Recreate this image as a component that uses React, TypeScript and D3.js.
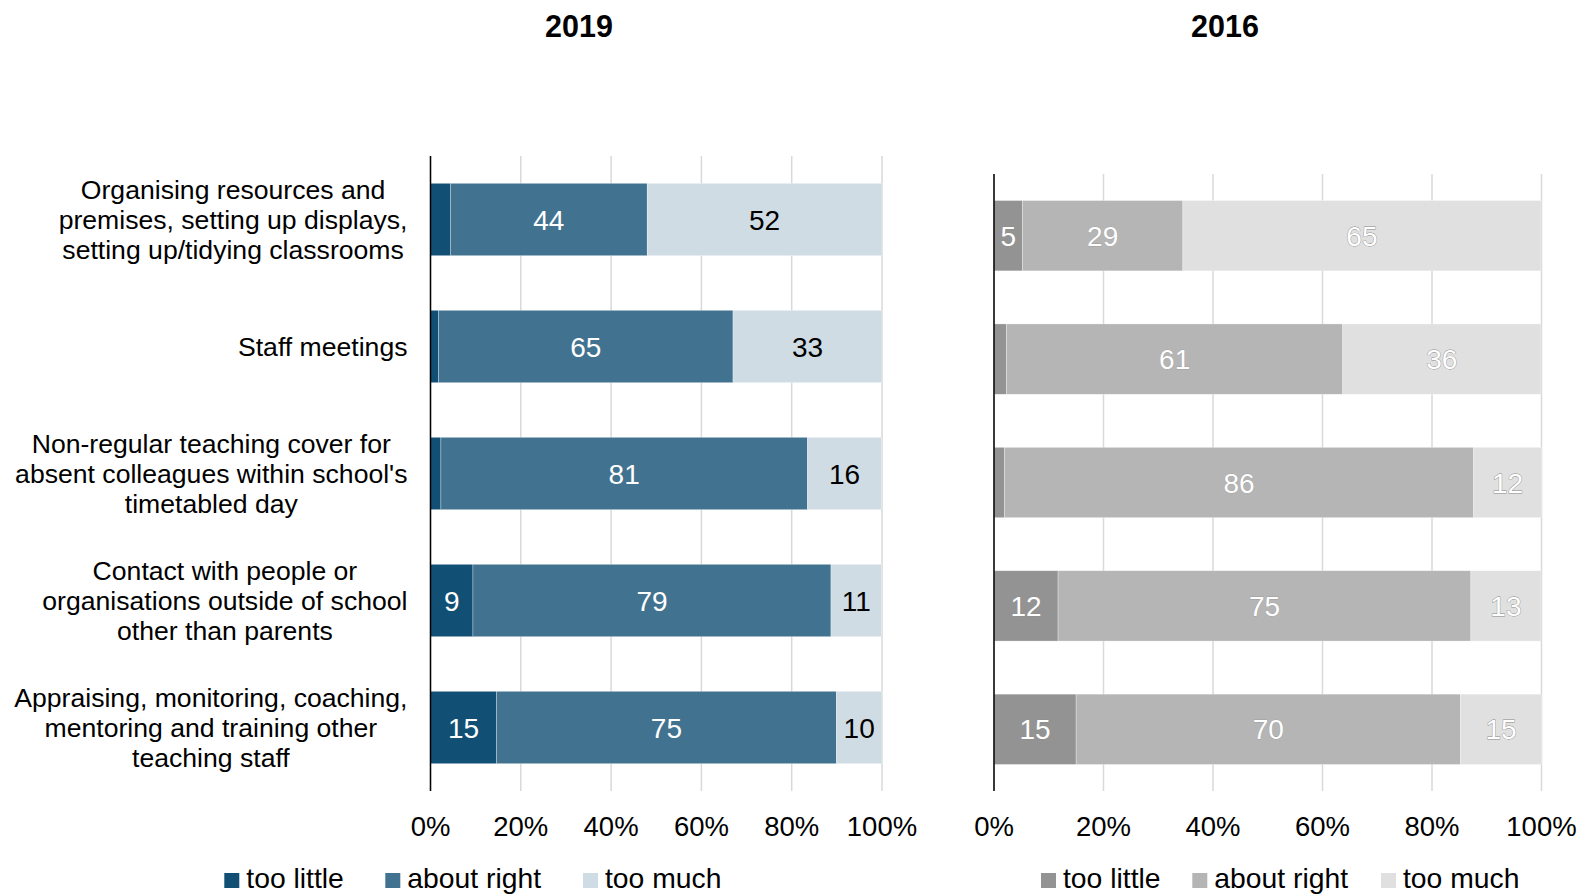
import React from "react";
import * as d3 from "d3";

const categories = [
  ["Organising resources and", "premises, setting up displays,", "setting up/tidying classrooms"],
  ["Staff meetings"],
  ["Non-regular teaching cover for", "absent colleagues within school's", "timetabled day"],
  ["Contact with people or", "organisations outside of school", "other than parents"],
  ["Appraising, monitoring, coaching,", "mentoring and training other", "teaching staff"],
];

const seriesNames = ["too little", "about right", "too much"];

const tooLittle2019 = [4.4, 1.8, 2.3, 9.4, 14.6];
const aboutRight2019 = [43.6, 65.2, 81.2, 79.3, 75.3];
const tooMuch2019 = [52.0, 33.0, 16.4, 11.2, 10.1];

const tooLittle2016 = [5.2, 2.3, 1.9, 11.7, 15.0];
const aboutRight2016 = [29.3, 61.4, 85.7, 75.4, 70.2];
const tooMuch2016 = [65.4, 36.2, 12.4, 12.8, 14.8];

const ticks = [0, 20, 40, 60, 80, 100];

const colors2019 = ["#124f74", "#41728f", "#d0dce4"];
const colors2016 = ["#939393", "#b5b5b5", "#e0e0e0"];
const labelColors2019 = ["#ffffff", "#ffffff", "#000000"];

const FONT = "'Liberation Sans', Arial, sans-serif";

type Panel = {
  title: string;
  titleX: number;
  x0: number;
  x1: number;
  y0: number;
  y1: number;
  series: number[][];
  colors: string[];
  gray: boolean;
  legendX: number[];
};

const panels: Panel[] = [
  {
    title: "2019",
    titleX: 579,
    x0: 430.5,
    x1: 882,
    y0: 156,
    y1: 791,
    series: [tooLittle2019, aboutRight2019, tooMuch2019],
    colors: colors2019,
    gray: false,
    legendX: [224.3, 385.3, 583],
  },
  {
    title: "2016",
    titleX: 1225,
    x0: 994,
    x1: 1541.5,
    y0: 174,
    y1: 791,
    series: [tooLittle2016, aboutRight2016, tooMuch2016],
    colors: colors2016,
    gray: true,
    legendX: [1041, 1192.3, 1381],
  },
];

let measureCtx: CanvasRenderingContext2D | null = null;
function measure(text: string, size: number) {
  if (!measureCtx) {
    const c = document.createElement("canvas");
    measureCtx = c.getContext("2d");
  }
  if (!measureCtx) return text.length * size * 0.5;
  measureCtx.font = `${size}px 'Liberation Sans'`;
  return measureCtx.measureText(text).width;
}

function PanelView({ p }: { p: Panel }) {
  const x = d3.scaleLinear().domain([0, 100]).range([p.x0, p.x1]);
  const idx = categories.map((_, i) => String(i));
  const y = d3.scaleBand().domain(idx).range([p.y0, p.y1]).paddingInner(0.43).paddingOuter(0.215);
  const stacked = categories.map((_, i) => {
    let acc = 0;
    return p.series.map((s) => {
      const start = acc;
      acc += s[i];
      return { start, end: acc, v: s[i] };
    });
  });
  return (
    <g>
      <text x={p.titleX} y={37} textAnchor="middle" fontWeight="bold" fontSize={30.5} fontFamily={FONT} fill="#000">
        {p.title}
      </text>
      {ticks.map((t) => (
        <line key={"g" + t} x1={x(t)} x2={x(t)} y1={p.y0} y2={p.y1} stroke="#d9d9d9" strokeWidth={1.5} />
      ))}
      {stacked.map((segs, i) =>
        segs.map((sg, j) => (
          <rect
            key={`r${i}-${j}`}
            x={x(sg.start)}
            y={y(String(i))}
            width={x(sg.end) - x(sg.start)}
            height={y.bandwidth()}
            fill={p.colors[j]}
            stroke="#ffffff"
            strokeWidth={0.6}
            strokeOpacity={0.5}
          />
        ))
      )}
      {stacked.map((segs, i) =>
        segs.map((sg, j) => {
          const r = Math.round(sg.v);
          if (r < 5) return null;
          const cx = (x(sg.start) + x(sg.end)) / 2;
          const cy = (y(String(i)) as number) + y.bandwidth() / 2;
          return (
            <text
              key={`l${i}-${j}`}
              x={cx}
              y={cy}
              dy="0.36em"
              textAnchor="middle"
              fontSize={28}
              fontFamily={FONT}
              fill={p.gray ? "#ffffff" : labelColors2019[j]}
              stroke={p.gray ? "#8a8a8a" : "none"}
              strokeWidth={p.gray ? (j === 2 ? 0.8 : 0.4) : 0}
              paintOrder="stroke"
            >
              {r}
            </text>
          );
        })
      )}
      <line x1={p.x0} x2={p.x0} y1={p.y0} y2={p.y1} stroke="#000" strokeWidth={1.5} />
      {ticks.map((t) => (
        <text key={"t" + t} x={x(t)} y={836} textAnchor="middle" fontSize={27.5} fontFamily={FONT} fill="#000">
          {t + "%"}
        </text>
      ))}
      {seriesNames.map((n, j) => (
        <g key={"lg" + j}>
          <rect x={p.legendX[j]} y={873} width={15} height={15} fill={p.colors[j]} />
          <text x={p.legendX[j] + 22} y={888.3} fontSize={28.3} fontFamily={FONT} fill="#000">
            {n}
          </text>
        </g>
      ))}
    </g>
  );
}

function CategoryLabels() {
  const p = panels[0];
  const idx = categories.map((_, i) => String(i));
  const y = d3.scaleBand().domain(idx).range([p.y0, p.y1]).paddingInner(0.43).paddingOuter(0.215);
  const size = 26.6;
  const lh = 30.2;
  const right = 407.5;
  return (
    <g>
      {categories.map((lines, i) => {
        const maxW = d3.max(lines, (l) => measure(l, size)) as number;
        const cx = right - maxW / 2;
        const cy = (y(String(i)) as number) + y.bandwidth() / 2;
        const top = cy - ((lines.length - 1) * lh) / 2;
        return (
          <text key={"c" + i} fontSize={size} fontFamily={FONT} fill="#000" textAnchor="middle">
            {lines.map((l, k) => (
              <tspan key={k} x={cx} y={top + k * lh} dy="0.36em">
                {l}
              </tspan>
            ))}
          </text>
        );
      })}
    </g>
  );
}

export default function App() {
  return (
    <svg
      width={1584}
      height={896}
      style={{ position: "absolute", left: 0, top: 0, background: "#fff" }}
    >
      <rect x={0} y={0} width={1584} height={896} fill="#fff" />
      <CategoryLabels />
      {panels.map((p) => (
        <PanelView key={p.title} p={p} />
      ))}
    </svg>
  );
}
